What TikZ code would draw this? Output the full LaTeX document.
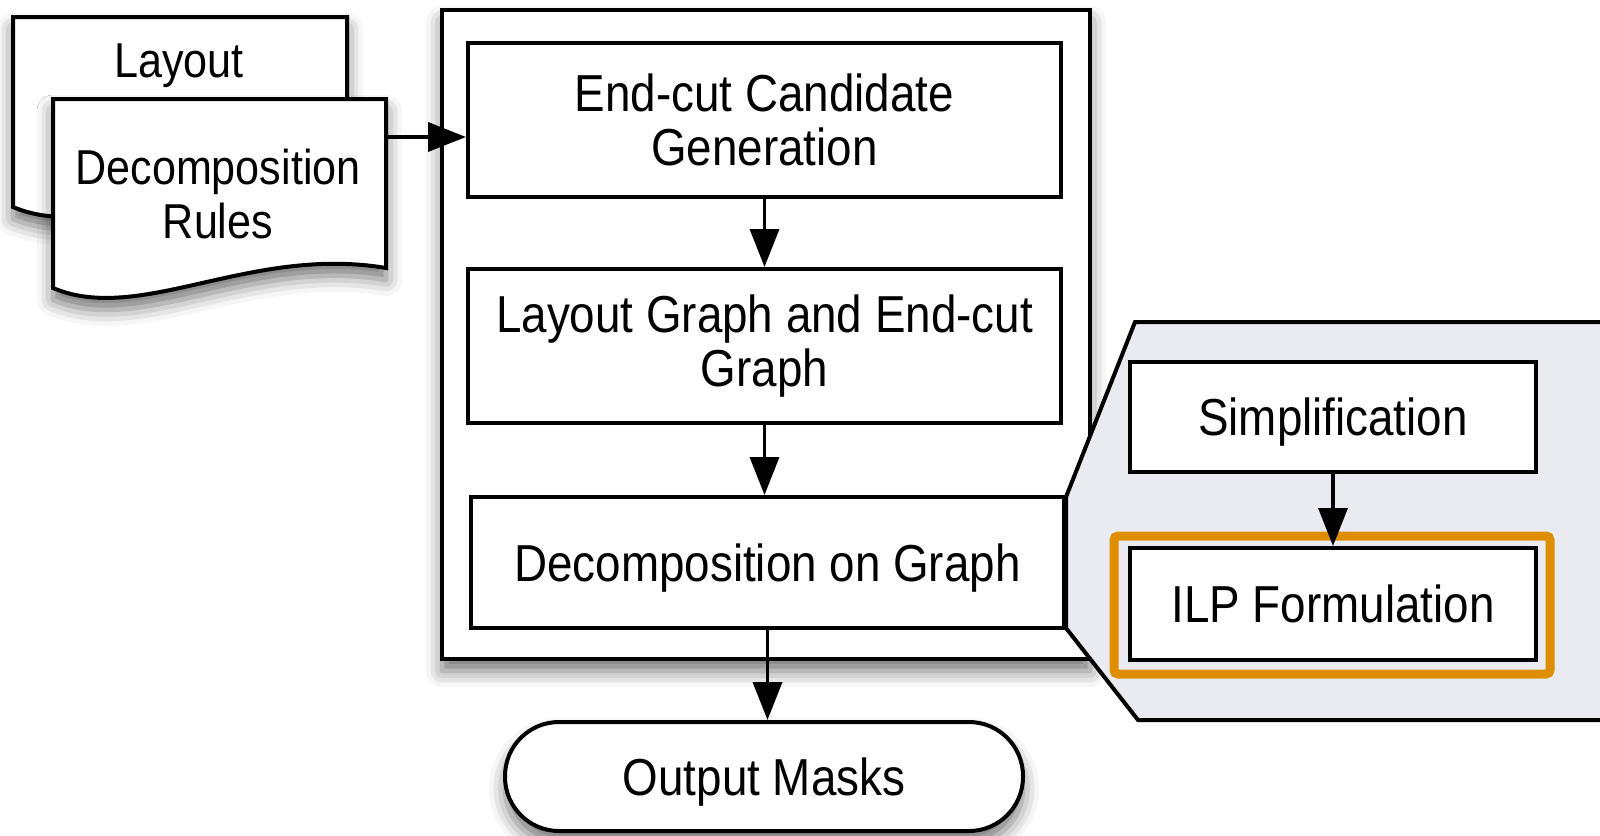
\documentclass[tikz,border=0pt]{standalone}
\usepackage{fontspec}
\setmainfont{Liberation Sans}[FakeStretch=0.88]
\usetikzlibrary{arrows.meta,shadows.blur}
\definecolor{zoomgray}{RGB}{233,235,240}
\definecolor{hlorange}{RGB}{222,142,0}
\begin{document}
\begin{tikzpicture}[x=0.5pt,y=-0.5pt,
  font=\fontsize{26}{27}\selectfont,
  box/.style={draw, line width=2pt, fill=white, align=center, inner sep=0pt},
  oneline/.style={text depth=0pt},
  doctext/.style={font=\fontsize{24.5}{27}\selectfont, align=center},
  arr/.style={-{Triangle[length=19pt,width=14.5pt,fill=black]}, line width=1.8pt, draw=black},
  shad/.style={blur shadow={shadow xshift=0pt, shadow yshift=-6pt, shadow blur radius=8pt, shadow opacity=55}}]
\useasboundingbox (0,0) rectangle (1600,835);

% documents
\draw[shad, line width=2pt, fill=white] (13,17) -- (347,17) -- (347,188)
  .. controls (210,165) and (100,244) .. (13,207) -- cycle;
\node[doctext, oneline] (layout) at (179,61) {Layout};
\draw[shad, line width=2pt, fill=white] (53,99) -- (386,99) -- (386,268)
  .. controls (250,245) and (140,325) .. (53,288) -- cycle;
\node[doctext] (rules) at (218,194) {Decomposition\\Rules};
\coordinate (docR) at (386,137);

% outer flow box
\node[box, shad, minimum width=324pt, minimum height=324.5pt] (outer) at (766,334.5) {};
\node[box, minimum width=296.5pt, minimum height=77pt] (ecg) at (764.5,120) {End-cut Candidate\\Generation};
\node[box, minimum width=296.5pt, minimum height=77pt] (lg) at (764.5,346) {Layout Graph and End-cut\\Graph};

% zoom region
\fill[zoomgray] (1600,322) -- (1135,322) -- (1066,497) -- (1066,628) -- (1138,720) -- (1600,720) -- cycle;
\draw[line width=2pt] (1600,322) -- (1135,322) -- (1066,497) -- (1066,628) -- (1138,720) -- (1600,720);

\node[box, oneline, minimum width=296.5pt, minimum height=65.5pt] (dog) at (767.5,562.5) {Decomposition on Graph};

\node[box, oneline, minimum width=203pt, minimum height=55pt] (simp) at (1333,417) {Simplification};
\node[box, oneline, minimum width=203pt, minimum height=56pt] (ilp) at (1333,604) {ILP Formulation};
\node[draw=hlorange, line width=4.5pt, rounded corners=2pt, minimum width=218pt, minimum height=69pt, inner sep=0pt] (hl) at (1332,605) {};

\node[box, oneline, shad, rounded corners=27pt, minimum width=259pt, minimum height=54.5pt] (out) at (764,776.5) {Output Masks};

% connectors
\draw[arr] (docR) -- (ecg.west |- docR);
\draw[arr] (ecg.south) -- (lg.north);
\draw[arr] (lg.south) -- (lg.south |- dog.north);
\draw[arr] (dog.south) -- (dog.south |- out.north);
\draw[arr] (simp.south) -- (ilp.north);
\end{tikzpicture}
\end{document}
